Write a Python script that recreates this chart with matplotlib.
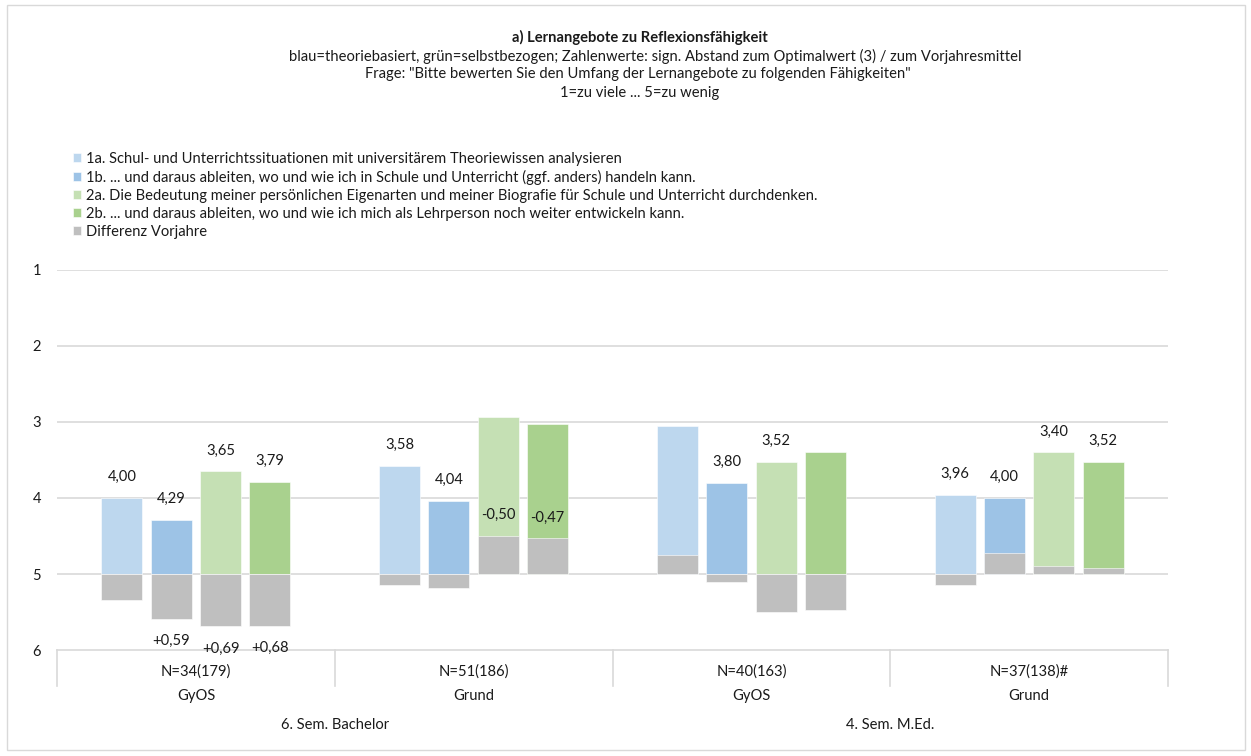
import matplotlib
matplotlib.use("Agg")
import matplotlib.pyplot as plt
from matplotlib.patches import Rectangle
from matplotlib.transforms import blended_transform_factory
import numpy as np

plt.rcParams['font.family'] = ['Lato', 'DejaVu Sans']

# --- data -----------------------------------------------------------------
groups_n = ["N=34(179)", "N=51(186)", "N=40(163)", "N=37(138)#"]
groups_school = ["GyOS", "Grund", "GyOS", "Grund"]
groups_stage = ["6. Sem. Bachelor", "4. Sem. M.Ed."]

series_names = [
    "1a. Schul- und Unterrichtssituationen mit universitärem Theoriewissen analysieren",
    "1b. ... und daraus ableiten, wo und wie ich in Schule und Unterricht (ggf. anders) handeln kann.",
    "2a. Die Bedeutung meiner persönlichen Eigenarten und meiner Biografie für Schule und Unterricht durchdenken.",
    "2b. ... und daraus ableiten, wo und wie ich mich als Lehrperson noch weiter entwickeln kann.",
]
diff_name = "Differenz Vorjahre"

mean_1a = [4.00, 3.58, 3.05, 3.96]
mean_1b = [4.29, 4.04, 3.80, 4.00]
mean_2a = [3.65, 2.94, 3.52, 3.40]
mean_2b = [3.79, 3.02, 3.39, 3.52]

diff_1a = [0.34, 0.14, -0.25, 0.14]
diff_1b = [0.59, 0.19, 0.11, -0.28]
diff_2a = [0.69, -0.50, 0.50, -0.11]
diff_2b = [0.68, -0.47, 0.47, -0.08]

# which values carry a number (significant ones)
show_mean_1a = [True, True, False, True]
show_mean_1b = [True, True, True, True]
show_mean_2a = [True, False, True, True]
show_mean_2b = [True, False, False, True]

show_diff_1a = [False, False, False, False]
show_diff_1b = [True, False, False, False]
show_diff_2a = [True, True, False, False]
show_diff_2b = [True, True, False, False]

yticks = [1, 2, 3, 4, 5, 6]
baseline = 5

colors = ["#BDD7EE", "#9DC3E6", "#C5E0B4", "#A9D18E"]
grey = "#BFBFBF"
grid_c = "#D9D9D9"
text_c = "#1a1a1a"
fs = 10.6

means = [mean_1a, mean_1b, mean_2a, mean_2b]
diffs = [diff_1a, diff_1b, diff_2a, diff_2b]
show_means = [show_mean_1a, show_mean_1b, show_mean_2a, show_mean_2b]
show_diffs = [show_diff_1a, show_diff_1b, show_diff_2a, show_diff_2b]

# --- figure ---------------------------------------------------------------
W, H = 1251, 756
fig = plt.figure(figsize=(W / 100, H / 100), dpi=100)
fig.patch.set_facecolor("white")

def fx(px):
    return px / W

def fy(py):
    return 1 - py / H

ax_l, ax_r, ax_t, ax_b = 57, 1168, 270, 650
ax = fig.add_axes([fx(ax_l), fy(ax_b), fx(ax_r - ax_l), (ax_b - ax_t) / H])
ax.set_xlim(-0.5, 3.5)
ax.set_ylim(6, 1)

for s in ["top", "right", "left"]:
    ax.spines[s].set_visible(False)
ax.spines["bottom"].set_color(grid_c)
ax.spines["bottom"].set_linewidth(1.2)

ax.set_yticks(yticks)
ax.set_yticklabels([str(t) for t in yticks], fontsize=fs, color=text_c)
ax.tick_params(axis="y", length=0, pad=11.5)
ax.set_xticks([])
for t in yticks[:-1]:
    ax.axhline(t, color=grid_c, lw=1.2, zorder=0)

x = np.arange(len(groups_n))
pitch = 0.1775
width = 0.1476
offsets = (np.arange(4) - 1.5) * pitch

handles = []
for i in range(4):
    xs = x + offsets[i]
    h = ax.bar(xs, np.array(means[i]) - baseline, bottom=baseline, width=width,
               color=colors[i], edgecolor="white", linewidth=0.4, zorder=2)
    handles.append(h)
grey_handle = None
for i in range(4):
    xs = x + offsets[i]
    g = ax.bar(xs, diffs[i], bottom=baseline, width=width, color=grey,
               edgecolor="white", linewidth=0.4, zorder=3)
    grey_handle = g

def fmt(v, sign=False):
    s = f"{v:+.2f}" if sign else f"{v:.2f}"
    return s.replace(".", ",")

for i in range(4):
    for j in range(4):
        xc = x[j] + offsets[i]
        if show_means[i][j]:
            ax.annotate(fmt(means[i][j]), (xc, means[i][j]), xytext=(0, 15),
                        textcoords="offset points", ha="center", va="center",
                        fontsize=fs, color=text_c, zorder=5)
        if show_diffs[i][j]:
            d = diffs[i][j]
            end = baseline + d
            off = -16 if d > 0 else 15
            ax.annotate(fmt(d, sign=True), (xc, end), xytext=(0, off),
                        textcoords="offset points", ha="center", va="center",
                        fontsize=fs, color=text_c, zorder=5)

# multi-level category axis
tr = blended_transform_factory(ax.transData, ax.transAxes)
ph = ax_b - ax_t
for b in np.arange(-0.5, 4.0, 1.0):
    ax.plot([b, b], [0, -36 / ph], transform=tr, color=grid_c, lw=1.2,
            clip_on=False)
for j in range(4):
    ax.text(x[j], -22 / ph, groups_n[j], transform=tr, ha="center",
            va="center", fontsize=fs, color=text_c)
    ax.text(x[j], -46 / ph, groups_school[j], transform=tr, ha="center",
            va="center", fontsize=fs, color=text_c)
for k, lab in enumerate(groups_stage):
    ax.text(0.5 + 2 * k, -75 / ph, lab, transform=tr, ha="center",
            va="center", fontsize=fs, color=text_c)

# titles
fig.text(fx(640), fy(37), "a) Lernangebote zu Reflexionsfähigkeit",
         ha="center", va="center", fontsize=fs, fontweight="bold", color=text_c)
fig.text(fx(655), fy(56),
         "blau=theoriebasiert, grün=selbstbezogen; Zahlenwerte: sign. Abstand zum Optimalwert (3) / zum Vorjahresmittel",
         ha="center", va="center", fontsize=fs, color=text_c)
fig.text(fx(638), fy(74),
         "Frage: \"Bitte bewerten Sie den Umfang der Lernangebote zu folgenden Fähigkeiten\"",
         ha="center", va="center", fontsize=fs, color=text_c)
fig.text(fx(640), fy(93), "1=zu viele ... 5=zu wenig",
         ha="center", va="center", fontsize=fs, color=text_c)

# legend
leg = fig.legend(handles + [grey_handle], series_names + [diff_name],
                 loc="upper left", bbox_to_anchor=(fx(73), fy(152)),
                 frameon=False, fontsize=fs, handlelength=0.55,
                 handleheight=0.55, handletextpad=0.3, labelspacing=0.27,
                 borderpad=0, borderaxespad=0)
for t in leg.get_texts():
    t.set_color(text_c)

# chart border
fig.patches.append(Rectangle((fx(7), fy(750)), fx(1238), (750 - 5) / H,
                             transform=fig.transFigure, fill=False,
                             edgecolor=grid_c, lw=1.0))

fig.savefig("out.png", dpi=100)
